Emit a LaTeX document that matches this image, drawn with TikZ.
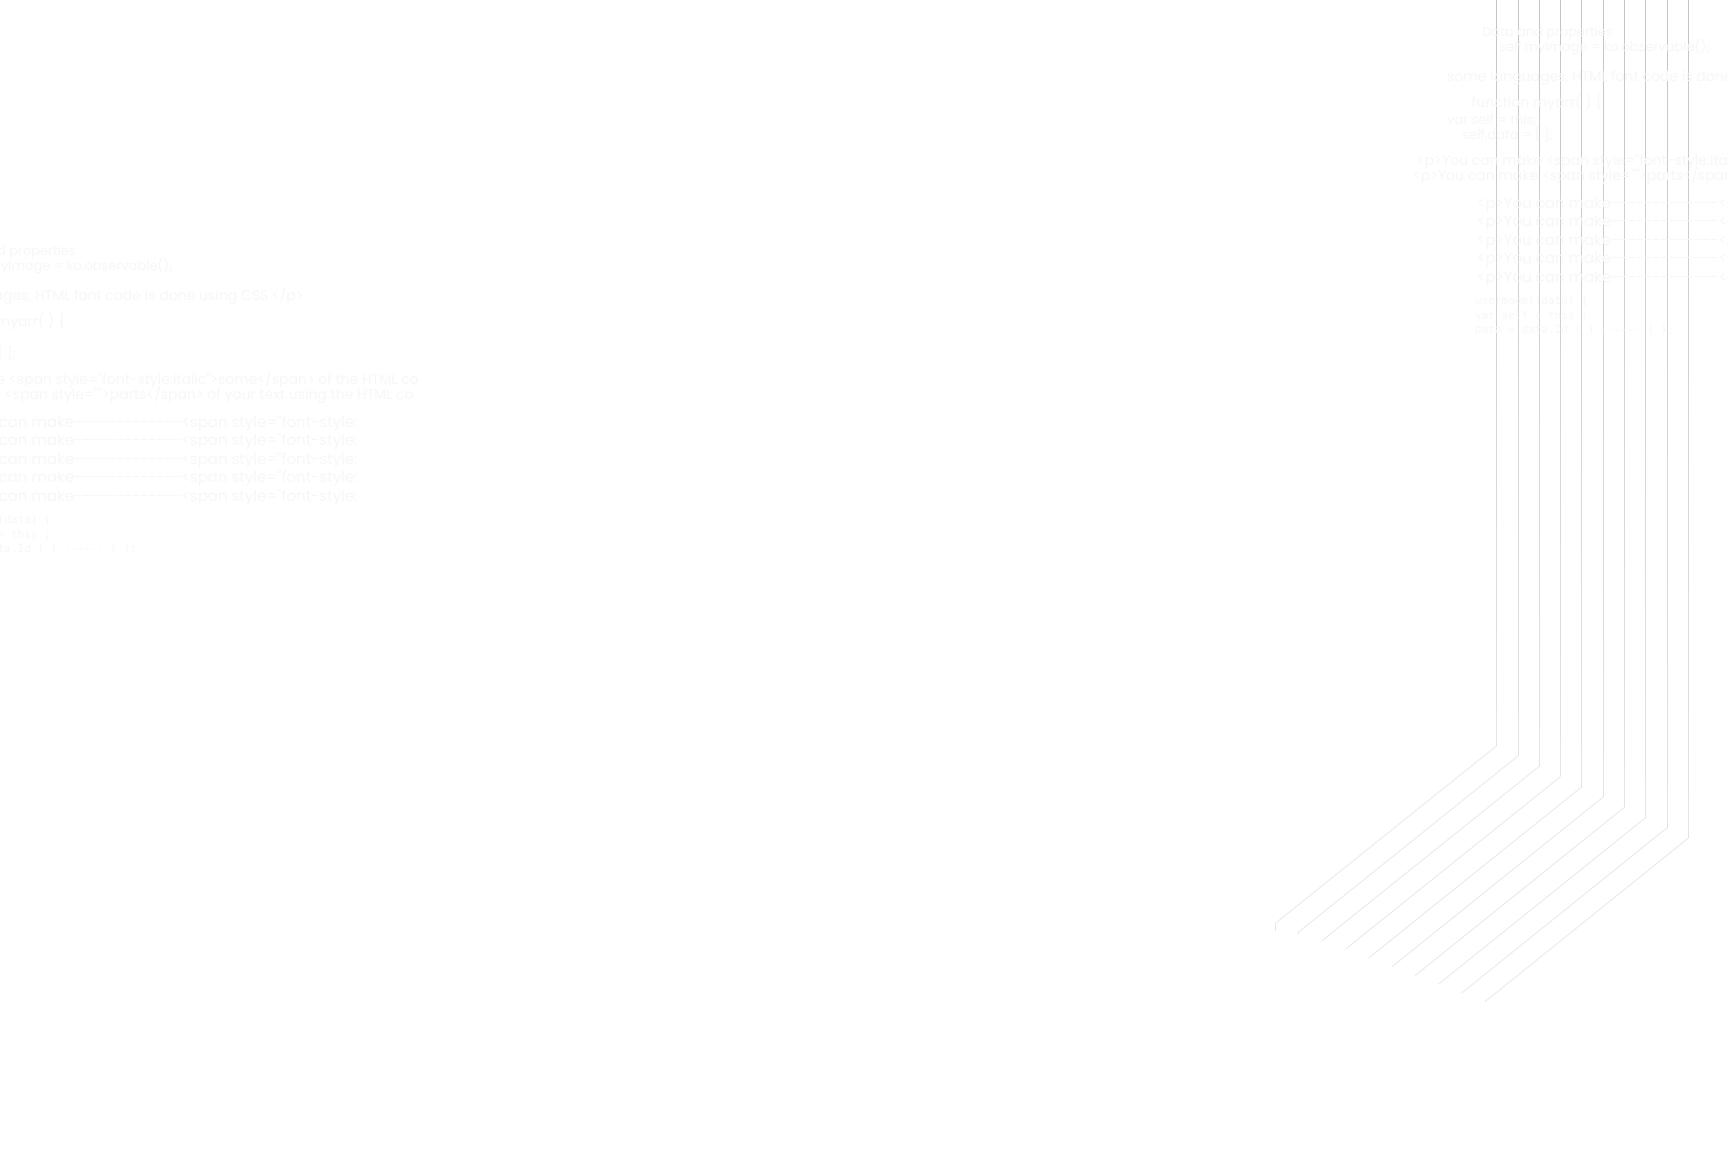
\documentclass[tikz,border=0pt]{standalone}
\usepackage{fontspec}
\setmainfont{Poppins}[Ligatures=TeXOff]
\newfontfamily\ghostmono{DejaVu Sans Mono}
\tikzset{
  ghost/.style={inner sep=0pt, text=black!3},
  gsmall/.style={ghost, font=\fontsize{13}{15}\selectfont},
  gmid/.style={ghost, font=\fontsize{14}{16}\selectfont},
  gbig/.style={ghost, font=\fontsize{15}{18}\selectfont},
  gtiny/.style={ghost, font=\ghostmono\fontsize{11}{14}\selectfont},
  diag/.style={line width=0.8pt, black!9},
}
\newcommand\ghostblock[1]{%
  \node[gsmall, anchor=base east] (#1a) at (1613,36) {Data and properties};
  \node[gsmall, anchor=base east] (#1b) at (1710,51) {self.myImage = ko.observable();};
  \node[gmid, anchor=base west] (#1c) at (1447,81) {some languages, HTML font code is done using CSS </p>};
  \node[gmid, anchor=base east] (#1d) at (1602,107) {function myarr( ) \{};
  \node[gsmall, anchor=base west] (#1e) at (1447,124) {var self = this;};
  \node[gsmall, anchor=base east] (#1f) at (1553,139) {self.data = [ ];};
  \node[gmid, anchor=base west] (#1g) at (1417,165) {<p>You can make <span style="font-style:italic">some</span> of the HTML co};
  \node[gmid, anchor=base west] (#1h) at (1413,180) {<p>You can make <span style="">parts</span> of your text using the HTML co};
  \foreach \r/\yy in {1/208,2/226,3/245,4/263,5/282}{
    \node[gbig, anchor=base west] (#1p\r) at (1477,\yy) {<p>You can make-------------<span style="font-style:};
  }
  \node[gtiny, anchor=base west] (#1q) at (1475,304) {usermodel(data) \{};
  \node[gtiny, anchor=base west] (#1s) at (1475,319) {var self = this ;};
  \node[gtiny, anchor=base west] (#1t) at (1475,333) {data = data.Id ( ) ------ ( );};
}
\begin{document}
\begin{tikzpicture}[x=1pt,y=-1pt]
  \useasboundingbox (0,0) rectangle (1728,1149);
  \fill[white] (0,0) rectangle (1728,1149);
  \clip (0,0) rectangle (1728,1149);
  % bent lines
  \foreach \i in {0,...,9}{
    \pgfmathsetmacro\xv{1496.7+21.29*\i}
    \pgfmathsetmacro\yb{745.7+10.26*\i}
    \pgfmathsetmacro\hs{\yb/20}
    \pgfmathsetmacro\xe{1275.3+23.3*\i}
    \pgfmathsetmacro\ye{923.3+8.71*\i}
    \coordinate (top\i) at (\xv,0);
    \coordinate (bend\i) at (\xv,\yb);
    \coordinate (end\i) at (\xe,\ye);
    \foreach \k in {0,...,19}{
      \pgfmathsetmacro\ya{\hs*\k}
      \pgfmathsetmacro\yc{\hs*(\k+1)}
      \pgfmathsetmacro\cc{23-12*\k/19}
      \draw[line width=1pt, black!\cc] (\xv,\ya) -- (\xv,\yc);
    }
    \draw[diag] (bend\i) -- (end\i);
  }
  \coordinate (stub0) at ([yshift=-8pt]end0);
  \coordinate (stub1) at ([yshift=-3pt]end1);
  \draw[diag] (end0) -- (stub0);
  \draw[diag] (end1) -- (stub1);
  % faint ghost text, drawn twice
  \begin{scope}
    \ghostblock{R}
  \end{scope}
  \begin{scope}[shift={(-1537,219)}]
    \ghostblock{L}
  \end{scope}
\end{tikzpicture}
\end{document}
